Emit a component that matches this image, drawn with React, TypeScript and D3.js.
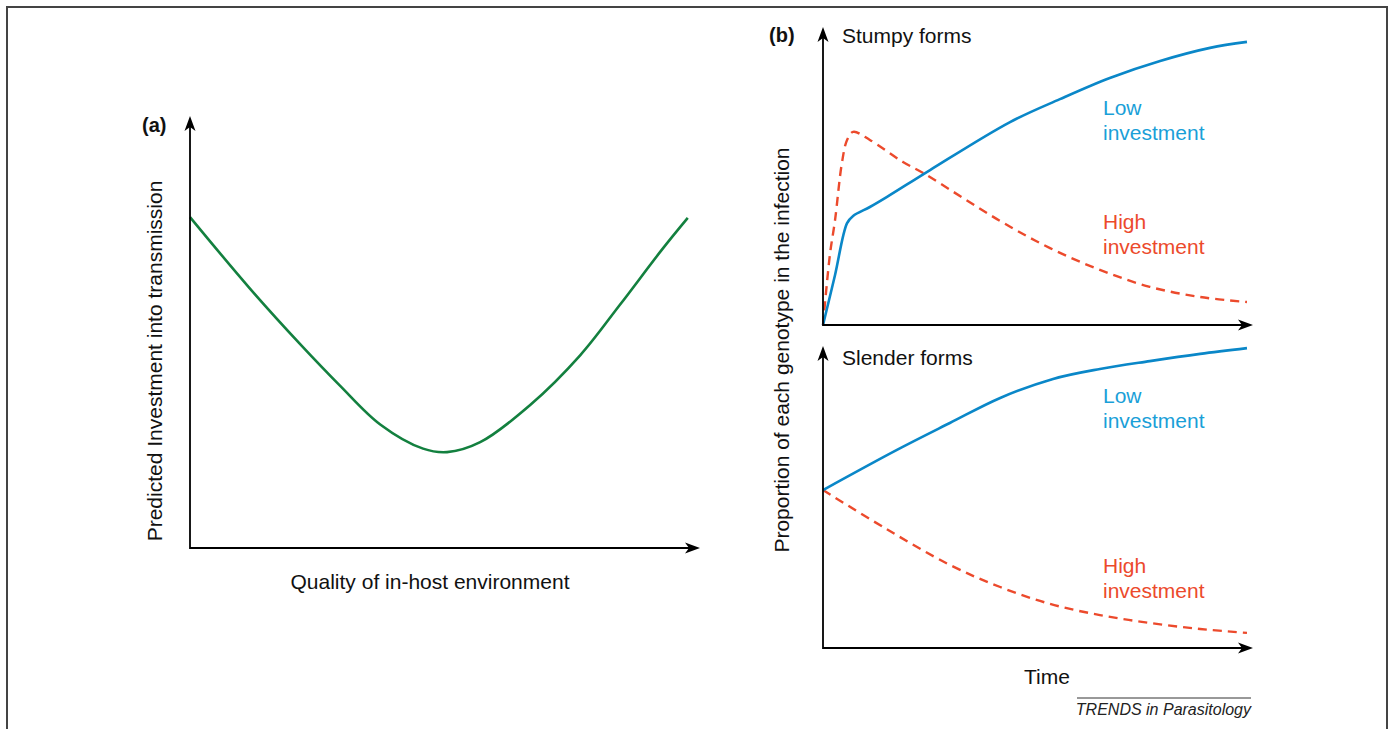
import React, { useEffect, useRef } from 'react';
import * as d3 from 'd3';

type Pt = [number, number];

// Panel (a): predicted investment vs quality of in-host environment
const investmentCurve: Pt[] = [
	[0, 76.6], [11.8, 60.0], [21.6, 47.2], [29.4, 37.6], [37.3, 28.6],
	[45.7, 23.0], [50.4, 22.2], [56.9, 24.5], [66.7, 33.1], [76.5, 44.6],
	[84.3, 56.3], [92.5, 69.0], [97.6, 76.4],
];

// Panel (b) top: stumpy forms
const stumpyLow: Pt[] = [
	[0, 0], [2.8, 16.8], [5.6, 34.2], [7.0, 36.6], [10.9, 39.6], [14.9, 43.0],
	[24.9, 52.0], [43.5, 68.1], [55.1, 75.8], [66.7, 82.9], [78.4, 88.6],
	[90.0, 93.0], [98.6, 95.0],
];
const stumpyHigh: Pt[] = [
	[0, 0], [1.6, 23.5], [2.8, 35.2], [4.4, 54.4], [5.6, 62.1], [7.0, 64.8],
	[10.9, 62.1], [18.6, 54.7], [23.3, 51.0], [41.2, 34.9], [52.8, 25.8],
	[64.4, 18.5], [76.0, 12.8], [87.7, 9.4], [98.6, 7.7],
];

// Panel (b) bottom: slender forms
const slenderLow: Pt[] = [
	[0, 52.3], [17.2, 65.6], [29.5, 74.5], [41.2, 82.8], [53.5, 89.1],
	[64.4, 92.4], [76.0, 95.0], [87.7, 97.4], [98.6, 99.3],
];
const slenderHigh: Pt[] = [
	[0, 52.3], [14.4, 39.7], [29.5, 27.5], [41.2, 20.2], [52.8, 14.6],
	[64.4, 10.9], [76.0, 8.3], [87.7, 6.3], [98.6, 5.0],
];

const W = 1394;
const H = 729;
const FONT = '"Liberation Sans", Arial, Helvetica, sans-serif';
const GREEN = '#13803f';
const BLUE = '#0a87c8';
const BLUE_TXT = '#1a9fd8';
const RED = '#ec4a2c';

const App: React.FC = () => {
	const ref = useRef<SVGSVGElement>(null);

	useEffect(() => {
		if (!ref.current) return;
		const svg = d3.select(ref.current);
		svg.selectAll('*').remove();

		// frame
		svg
			.append('path')
			.attr('d', `M7,${H} V7 H1387 V${H}`)
			.attr('fill', 'none')
			.attr('stroke', '#444')
			.attr('stroke-width', 2);

		// --- Scales ---
		const xA = d3.scaleLinear().domain([0, 100]).range([190, 700]);
		const yA = d3.scaleLinear().domain([0, 100]).range([548, 116]);
		const xB = d3.scaleLinear().domain([0, 100]).range([823, 1253]);
		const yTop = d3.scaleLinear().domain([0, 100]).range([325, 27]);
		const yBot = d3.scaleLinear().domain([0, 100]).range([648, 346]);

		const arrow = (x: number, y: number, angle: number) => {
			svg
				.append('path')
				.attr('d', 'M0,0 L-15,-5.5 L-11,0 L-15,5.5 Z')
				.attr('fill', '#000')
				.attr('transform', `translate(${x},${y}) rotate(${angle})`);
		};

		const axes = (
			x: d3.ScaleLinear<number, number>,
			y: d3.ScaleLinear<number, number>,
		) => {
			const x0 = x(0), y0 = y(0), x1 = x(100), y1 = y(100);
			svg
				.append('path')
				.attr('d', `M${x0},${y1 + 6} V${y0} H${x1 - 6}`)
				.attr('fill', 'none')
				.attr('stroke', '#000')
				.attr('stroke-width', 1.8);
			arrow(x0, y1, -90);
			arrow(x1, y0, 0);
		};

		const drawLine = (
			data: Pt[],
			x: d3.ScaleLinear<number, number>,
			y: d3.ScaleLinear<number, number>,
			color: string,
			dashed = false,
		) => {
			const line = d3
				.line<Pt>()
				.x((d) => x(d[0]))
				.y((d) => y(d[1]))
				.curve(d3.curveCatmullRom.alpha(0.5));
			svg
				.append('path')
				.attr('d', line(data))
				.attr('fill', 'none')
				.attr('stroke', color)
				.attr('stroke-width', dashed ? 2.4 : 2.6)
				.attr('stroke-dasharray', dashed ? '9,6' : null);
		};

		const text = (
			x: number,
			y: number,
			s: string,
			opts: { size?: number; color?: string; anchor?: string; weight?: string; style?: string; rotate?: boolean } = {},
		) => {
			const t = svg
				.append('text')
				.attr('font-family', FONT)
				.attr('font-size', opts.size ?? 21)
				.attr('fill', opts.color ?? '#111')
				.attr('text-anchor', opts.anchor ?? 'start')
				.attr('font-weight', opts.weight ?? 'normal')
				.attr('font-style', opts.style ?? 'normal')
				.text(s);
			if (opts.rotate) t.attr('transform', `translate(${x},${y}) rotate(-90)`);
			else t.attr('x', x).attr('y', y);
		};

		// --- Panel (a) ---
		drawLine(investmentCurve, xA, yA, GREEN);
		axes(xA, yA);
		text(142, 132, '(a)', { weight: 'bold', size: 20 });
		text(162, 361, 'Predicted Investment into transmission', { anchor: 'middle', rotate: true });
		text(430, 589, 'Quality of in-host environment', { anchor: 'middle' });

		// --- Panel (b) ---
		drawLine(stumpyHigh, xB, yTop, RED, true);
		drawLine(stumpyLow, xB, yTop, BLUE);
		axes(xB, yTop);
		drawLine(slenderHigh, xB, yBot, RED, true);
		drawLine(slenderLow, xB, yBot, BLUE);
		axes(xB, yBot);

		text(769, 42, '(b)', { weight: 'bold', size: 20 });
		text(842, 43, 'Stumpy forms');
		text(842, 365, 'Slender forms');
		text(789, 350, 'Proportion of each genotype in the infection', { anchor: 'middle', rotate: true });

		text(1103, 115, 'Low', { color: BLUE_TXT });
		text(1103, 140, 'investment', { color: BLUE_TXT });
		text(1103, 229, 'High', { color: RED });
		text(1103, 254, 'investment', { color: RED });
		text(1103, 403, 'Low', { color: BLUE_TXT });
		text(1103, 428, 'investment', { color: BLUE_TXT });
		text(1103, 573, 'High', { color: RED });
		text(1103, 598, 'investment', { color: RED });

		text(1047, 684, 'Time', { anchor: 'middle' });

		svg
			.append('line')
			.attr('x1', 1077)
			.attr('x2', 1251)
			.attr('y1', 698)
			.attr('y2', 698)
			.attr('stroke', '#333')
			.attr('stroke-width', 1);
		text(1251, 715, 'TRENDS in Parasitology', { size: 16, style: 'italic', anchor: 'end', color: '#222' });
	}, []);

	return (
		<svg
			ref={ref}
			width={W}
			height={H}
			style={{ position: 'absolute', left: 0, top: 0, background: '#fff' }}
		/>
	);
};

export default App;
